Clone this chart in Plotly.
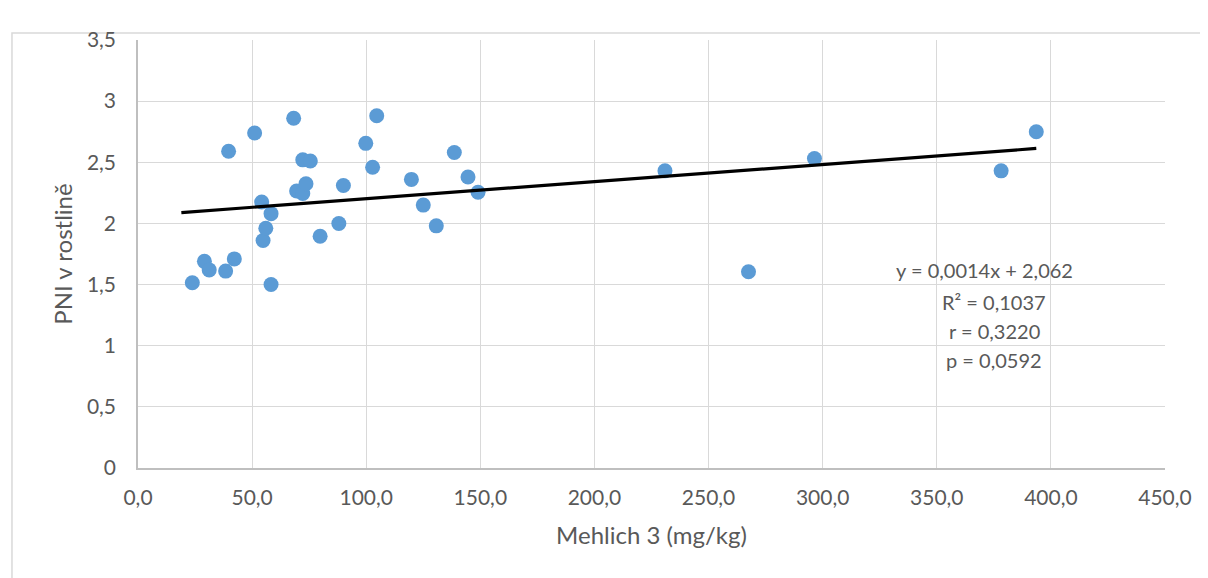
import plotly.graph_objects as go

# Mehlich 3 (mg/kg) vs PNI v rostlině
mehlich = [23.8, 29.1, 31.2, 38.4, 39.7, 42.2, 51.1, 54.2, 54.8, 56.0,
           58.3, 58.3, 68.2, 69.5, 72.2, 72.2, 73.6, 75.5, 79.8, 88.0,
           90.0, 99.8, 102.8, 104.6, 119.8, 125.0, 130.7, 138.6, 144.6, 149.0,
           230.9, 267.5, 296.4, 378.2, 393.6]
pni = [1.515, 1.69, 1.62, 1.61, 2.59, 1.71, 2.74, 2.175, 1.86, 1.96,
       2.08, 1.50, 2.86, 2.265, 2.52, 2.245, 2.325, 2.51, 1.895, 2.00,
       2.31, 2.655, 2.46, 2.88, 2.36, 2.15, 1.98, 2.58, 2.38, 2.255,
       2.43, 1.605, 2.53, 2.43, 2.75]

slope = 0.0014
intercept = 2.062
trend_x = [19.0, 393.6]
trend_y = [slope * x + intercept for x in trend_x]

stats_lines = ["y = 0,0014x + 2,062", "R² = 0,1037", "r = 0,3220", "p = 0,0592"]

FONT = "Lato"
GREY_TXT = "#595959"
GRID = "#D9D9D9"

fig = go.Figure()
fig.add_scatter(x=mehlich, y=pni, mode="markers",
                marker=dict(color="#5B9BD5", size=15, line=dict(width=0)),
                showlegend=False, hoverinfo="x+y")
fig.add_scatter(x=trend_x, y=trend_y, mode="lines",
                line=dict(color="black", width=3.2), showlegend=False, hoverinfo="skip")

# trendline label, one annotation per line
label_x = [370.7, 375.1, 375.1, 375.1]
label_y = [1.619, 1.357, 1.12, 0.883]
for txt, lx, ly in zip(stats_lines, label_x, label_y):
    fig.add_annotation(x=lx, y=ly, text=txt, showarrow=False, xanchor="center", yanchor="middle",
                       font=dict(family=FONT, size=20, color=GREY_TXT))

# outer chart border (cut by the screenshot at right/bottom)
fig.add_shape(type="rect", xref="paper", yref="paper", x0=-0.1227, x1=1.2, y0=-0.4, y1=1.0164,
              line=dict(color=GRID, width=1.5), layer="below")

# page body has an 8px margin, so the figure is kept 8px smaller
fig.update_layout(
    width=1200, height=570,
    margin=dict(l=130, r=43, t=32, b=110),
    plot_bgcolor="white", paper_bgcolor="white",
    separators=", ",
    font=dict(family=FONT, size=21, color=GREY_TXT),
)
fig.update_xaxes(range=[0, 450], dtick=50, tickformat=".1f",
                 showgrid=True, gridcolor=GRID, gridwidth=1.3,
                 showline=True, linecolor="#BFBFBF", linewidth=1.5,
                 zeroline=False, ticks="outside", ticklen=10, tickcolor="rgba(0,0,0,0)",
                 title=dict(text="Mehlich 3 (mg/kg)", standoff=19,
                            font=dict(family=FONT, size=24, color=GREY_TXT)))
fig.update_yaxes(range=[0, 3.5], dtick=0.5,
                 showgrid=True, gridcolor=GRID, gridwidth=1.3,
                 showline=True, linecolor="#BFBFBF", linewidth=1.5,
                 zeroline=False, ticks="outside", ticklen=16, tickcolor="rgba(0,0,0,0)",
                 title=dict(text="PNI v rostlině", standoff=8,
                            font=dict(family=FONT, size=24, color=GREY_TXT)))

fig.write_html("out.html")
